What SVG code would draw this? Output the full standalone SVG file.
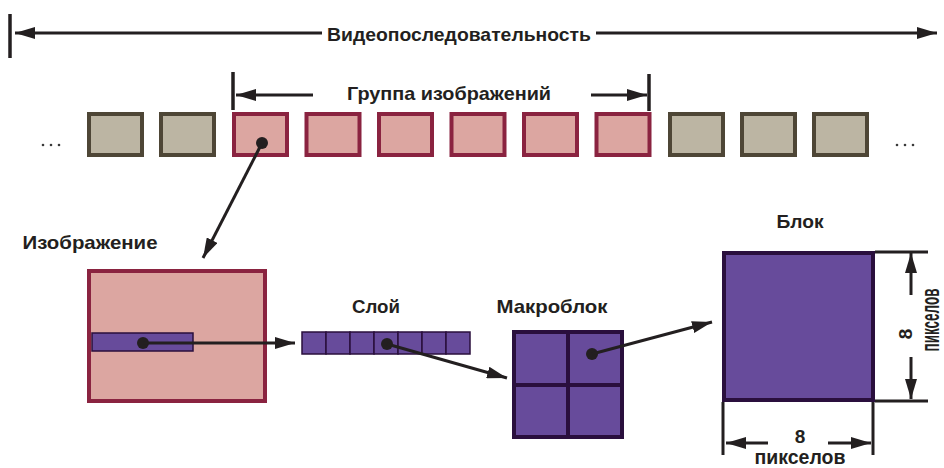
<svg xmlns="http://www.w3.org/2000/svg" width="944" height="468" viewBox="0 0 944 468">
<defs>
<style>
text{font-family:"Liberation Sans","DejaVu Sans",sans-serif;font-weight:bold;fill:#231f20}
.lbl{font-size:19px}
.grey{fill:#bcb5a3;stroke:#4e4636;stroke-width:4}
.pink{fill:#dca6a1;stroke:#8a2340;stroke-width:4}
.purp{fill:#674b9b;stroke:#2a0f3d}
.ln{stroke:#231f20;stroke-width:3;fill:none}
.bar{stroke:#231f20;stroke-width:3.5}
.dot{fill:#231f20}
.ell{fill:#3a3a3a}
</style>
<marker id="ah" viewBox="0 0 20 12" refX="20" refY="6" markerWidth="20" markerHeight="12" markerUnits="userSpaceOnUse" orient="auto">
<path d="M0,0 L20,6 L0,12 Z" fill="#231f20"/>
</marker>
</defs>

<g id="sequence">
<line class="bar" x1="10" y1="14" x2="10" y2="58"/>
<text class="lbl" x="459" y="41" text-anchor="middle" textLength="264" lengthAdjust="spacingAndGlyphs">Видеопоследовательность</text>
</g>

<g id="gop">
<line class="bar" x1="233" y1="72" x2="233" y2="110"/>
<line class="bar" x1="649" y1="74" x2="649" y2="111"/>
<text class="lbl" x="449" y="100" text-anchor="middle" textLength="204" lengthAdjust="spacingAndGlyphs">Группа изображений</text>
</g>

<g id="frames">
<circle class="ell" cx="43" cy="145" r="1.3"/>
<circle class="ell" cx="51" cy="145" r="1.3"/>
<circle class="ell" cx="59" cy="145" r="1.3"/>
<rect class="grey" x="89" y="114" width="53" height="41"/>
<rect class="grey" x="161" y="114" width="53" height="41"/>
<rect class="pink" x="234" y="114" width="53" height="41"/>
<rect class="pink" x="306.5" y="114" width="53" height="41"/>
<rect class="pink" x="379" y="114" width="53" height="41"/>
<rect class="pink" x="451.5" y="114" width="53" height="41"/>
<rect class="pink" x="524" y="114" width="53" height="41"/>
<rect class="pink" x="596.5" y="114" width="53" height="41"/>
<rect class="grey" x="670" y="114" width="53" height="41"/>
<rect class="grey" x="742" y="114" width="53" height="41"/>
<rect class="grey" x="814" y="114" width="53" height="41"/>
<circle class="ell" cx="897" cy="145" r="1.3"/>
<circle class="ell" cx="905" cy="145" r="1.3"/>
<circle class="ell" cx="913" cy="145" r="1.3"/>
</g>

<g id="picture">
<text class="lbl" x="90" y="249" text-anchor="middle" textLength="135" lengthAdjust="spacingAndGlyphs">Изображение</text>
<rect class="pink" x="89" y="271" width="176" height="130"/>
<rect class="purp" x="92" y="333" width="101" height="18" stroke-width="1.5"/>
</g>

<g id="slice">
<text class="lbl" x="376" y="313" text-anchor="middle" textLength="48" lengthAdjust="spacingAndGlyphs">Слой</text>
<g class="purp" stroke-width="1.5">
<rect x="302" y="332" width="24" height="22"/>
<rect x="326" y="332" width="24" height="22"/>
<rect x="350" y="332" width="24" height="22"/>
<rect x="374" y="332" width="24" height="22"/>
<rect x="398" y="332" width="24" height="22"/>
<rect x="422" y="332" width="24" height="22"/>
<rect x="446" y="332" width="24" height="22"/>
</g>
</g>

<g id="macroblock">
<text class="lbl" x="552" y="313" text-anchor="middle" textLength="111" lengthAdjust="spacingAndGlyphs">Макроблок</text>
<rect class="purp" x="514" y="332" width="108" height="105" stroke-width="4"/>
<line x1="568" y1="332" x2="568" y2="437" stroke="#2a0f3d" stroke-width="4"/>
<line x1="514" y1="385" x2="622" y2="385" stroke="#2a0f3d" stroke-width="4"/>
</g>

<g id="block">
<text class="lbl" x="800" y="228" text-anchor="middle" textLength="47" lengthAdjust="spacingAndGlyphs">Блок</text>
<rect class="purp" x="724" y="253" width="149" height="147" stroke-width="4"/>
<line class="ln" x1="875" y1="252" x2="928" y2="252"/>
<line class="ln" x1="875" y1="401" x2="928" y2="401"/>
<line class="ln" x1="723" y1="402" x2="723" y2="455"/>
<line class="ln" x1="873" y1="402" x2="873" y2="455"/>
<text class="lbl" transform="translate(912,334) rotate(-90)" text-anchor="middle">8</text>
<text transform="translate(939,320) rotate(-90) scale(0.54,1)" text-anchor="middle" font-size="25">пикселов</text>
<text class="lbl" x="800" y="443" text-anchor="middle">8</text>
<text x="800" y="464" text-anchor="middle" font-size="21" textLength="91" lengthAdjust="spacingAndGlyphs">пикселов</text>
</g>

<g id="connectors">
<line class="ln" x1="322" y1="33" x2="15" y2="33" marker-end="url(#ah)"/>
<line class="ln" x1="596" y1="33" x2="937" y2="33" marker-end="url(#ah)"/>
<line class="ln" x1="313" y1="95" x2="236" y2="95" marker-end="url(#ah)"/>
<line class="ln" x1="591" y1="95" x2="647" y2="95" marker-end="url(#ah)"/>
<circle class="dot" cx="262" cy="143" r="6"/>
<line class="ln" x1="262" y1="143" x2="203" y2="258" marker-end="url(#ah)"/>
<circle class="dot" cx="143" cy="343" r="6"/>
<line class="ln" x1="143" y1="343" x2="295" y2="343" marker-end="url(#ah)"/>
<circle class="dot" cx="387" cy="344" r="6"/>
<line class="ln" x1="387" y1="344" x2="507" y2="378" marker-end="url(#ah)"/>
<circle class="dot" cx="592" cy="354" r="6"/>
<line class="ln" x1="592" y1="354" x2="712" y2="322" marker-end="url(#ah)"/>
<line class="ln" x1="911" y1="295" x2="911" y2="253" marker-end="url(#ah)"/>
<line class="ln" x1="911" y1="357" x2="911" y2="399" marker-end="url(#ah)"/>
<line class="ln" x1="768" y1="443" x2="726" y2="443" marker-end="url(#ah)"/>
<line class="ln" x1="828" y1="443" x2="871" y2="443" marker-end="url(#ah)"/>
</g>
</svg>
